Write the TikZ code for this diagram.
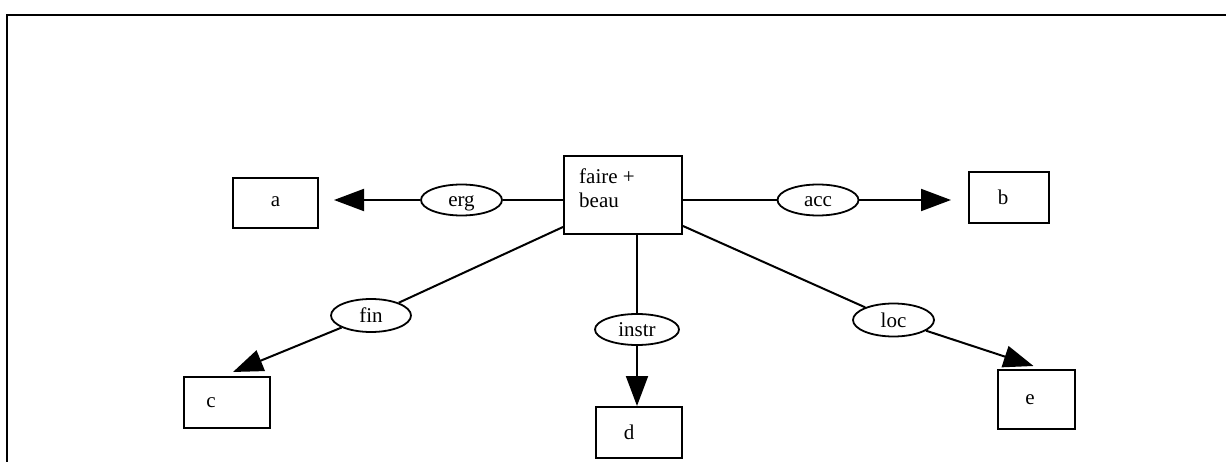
\documentclass[tikz,border=0pt]{standalone}
\usepackage{fontspec}
\setmainfont{Liberation Serif}
\usetikzlibrary{arrows.meta,shapes.geometric}
\begin{document}
\begin{tikzpicture}[x=1pt,y=-1pt,
  every node/.style={font=\fontsize{21}{24}\selectfont},
  box/.style={draw,line width=2pt,rectangle,inner sep=0pt},
  rel/.style={draw,line width=1.8pt,ellipse,inner sep=0pt,text height=14pt,text depth=0pt,minimum width=81pt,minimum height=31pt},
  conn/.style={line width=2pt},
  arr/.style={conn,-{Triangle[length=30pt,width=22pt]}}]
\useasboundingbox (0,0) rectangle (1226,462);
\draw[line width=2pt] (7,462) -- (7,15) -- (1226,15);

% boxes
\node[box,minimum width=118pt,minimum height=78pt] (faire) at (623,195) {};
\node[anchor=north west,align=left,inner sep=0pt] (ft) at (579,169) {faire +\\beau};
\node[box,minimum width=85pt,minimum height=50pt] (a) at (275.5,203) {\raisebox{3pt}{a}};
\node[box,minimum width=80pt,minimum height=51pt] (b) at (1009,197.5) {\hspace*{-12pt}b};
\node[box,minimum width=86pt,minimum height=51pt] (c) at (227,402.5) {\hspace*{-32pt}c};
\node[box,minimum width=86pt,minimum height=51pt] (d) at (638.5,432.5) {\hspace*{-19pt}d};
\node[box,minimum width=77pt,minimum height=59pt] (e) at (1036.5,399.5) {\hspace*{-13pt}e};

% relations
\node[rel] (erg) at (461.5,200) {erg};
\node[rel] (acc) at (818,200) {acc};
\node[rel,minimum width=80pt,minimum height=33pt] (fin) at (371,315.5) {fin};
\node[rel,minimum width=84pt] (instr) at (637,329.5) {instr};
\node[rel,minimum height=33pt] (loc) at (893.5,320) {loc};

% connectors
\draw[conn] (faire.west |- erg) -- (erg);
\draw[arr,shorten >=15pt] (erg) -- (erg -| a.east);
\draw[conn] (faire.east |- acc) -- (acc);
\draw[arr,shorten >=17pt] (acc) -- (acc -| b.west);
\draw[conn] ([yshift=8pt]faire.south west) -- (fin);
\draw[arr] (fin) -- ([xshift=6pt,yshift=4pt]c.north);
\draw[conn] (faire.south -| instr) -- (instr);
\draw[arr] (instr) -- (instr |- d.north);
\draw[conn] ([yshift=9pt]faire.south east) -- (loc);
\draw[arr] (loc) -- ([xshift=-3pt,yshift=3pt]e.north);
\end{tikzpicture}
\end{document}
